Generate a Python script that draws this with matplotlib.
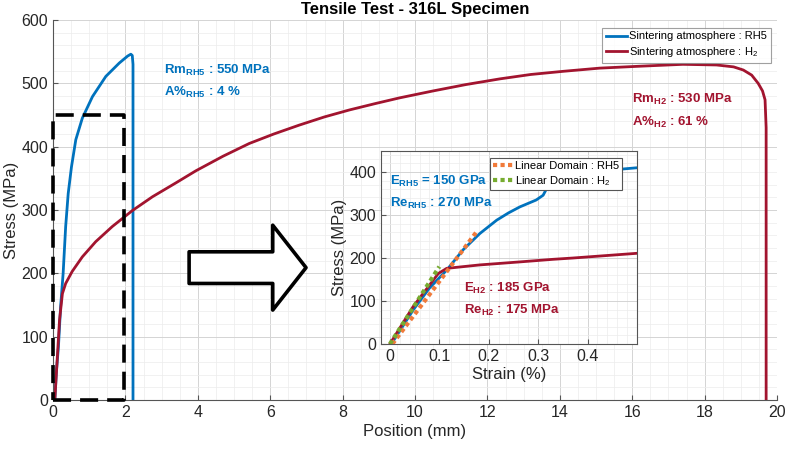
import matplotlib
matplotlib.use("Agg")
import matplotlib.pyplot as plt
from matplotlib.patches import FancyArrow
from matplotlib.ticker import MultipleLocator

plt.rcParams['font.family'] = ['Liberation Sans', 'DejaVu Sans']
plt.rcParams['mathtext.fontset'] = 'custom'
plt.rcParams['mathtext.rm'] = 'Liberation Sans'
plt.rcParams['mathtext.bf'] = 'Liberation Sans:bold'

# main curves: position (mm) vs stress (MPa)
pos_rh5 = [0.05, 0.09, 0.15, 0.21, 0.28, 0.35, 0.42, 0.51, 0.63, 0.81, 1.09, 1.46,
           1.83, 2.06, 2.15, 2.19, 2.21, 2.21]
stress_rh5 = [0, 42, 84, 147, 200, 274, 326, 368, 411, 445, 479, 511,
              532, 543, 546, 544, 530, 0]

pos_h2 = [0.05, 0.12, 0.18, 0.26, 0.35, 0.53, 0.81, 1.18, 1.64, 2.19, 2.75, 3.4,
          3.95, 4.7, 5.42, 6.1, 6.8, 7.5, 8.19, 8.9, 9.57, 10.5, 11.4, 12.34, 13.2,
          14.1, 15.1, 16.2, 17.4, 18.33, 18.8, 19.07, 19.3, 19.48, 19.6, 19.67, 19.7, 19.7]
stress_h2 = [0, 68, 126, 168, 184, 203, 226, 250, 274, 299, 321, 343,
             362, 385, 405, 420, 434, 447, 458, 468, 477, 488, 498, 507, 514,
             519, 524, 527, 530, 529, 526, 521, 513, 500, 488, 474, 430, 0]

# inset: strain (%) vs stress (MPa)
strain_rh5 = [0.003, 0.047, 0.08, 0.115, 0.148, 0.182, 0.216, 0.24, 0.263, 0.296,
              0.31, 0.323, 0.34, 0.38, 0.45, 0.5]
inset_rh5 = [0, 79, 130, 172, 219, 257, 288, 305, 319, 335,
             346, 374, 385, 396, 405, 410]
strain_h2 = [0.0, 0.047, 0.098, 0.115, 0.182, 0.263, 0.33, 0.37, 0.5]
inset_h2 = [0, 87, 164, 176, 184, 191, 197, 200, 211]

lin_rh5_x = [0.005, 0.178]
lin_rh5_y = [0, 265]
lin_h2_x = [0.0, 0.1]
lin_h2_y = [0, 180]

blue = '#0072BD'
red = '#A2142F'
orange = '#F07A3A'
green = '#77AC30'
axcol = '#555555'

fig = plt.figure(figsize=(7.87, 4.49), dpi=100)
ax = fig.add_axes([53/787, 49/449, 724/787, 380/449])

ax.plot(pos_rh5, stress_rh5, color=blue, lw=2.0, label='Sintering atmosphere : RH5')
ax.plot(pos_h2, stress_h2, color=red, lw=2.0, label='Sintering atmosphere : H$_2$')

ax.set_xlim(0, 20)
ax.set_ylim(0, 600)
ax.xaxis.set_major_locator(MultipleLocator(2))
ax.xaxis.set_minor_locator(MultipleLocator(0.5))
ax.yaxis.set_major_locator(MultipleLocator(100))
ax.yaxis.set_minor_locator(MultipleLocator(20))
ax.grid(which='major', color='#d4d4d4', lw=0.7)
ax.grid(which='minor', color='#ececec', lw=0.5)
ax.set_axisbelow(True)
ax.tick_params(which='both', direction='in', colors=axcol, labelcolor='#262626', labelsize=11.5)
ax.tick_params(which='minor', length=0)
ax.spines['top'].set_visible(False)
ax.spines['right'].set_visible(False)
for s in ['left', 'bottom']:
    ax.spines[s].set_color(axcol)
ax.set_xlabel('Position (mm)', fontsize=12, color='#262626', labelpad=3)
ax.set_ylabel('Stress (MPa)', fontsize=12, color='#262626', labelpad=2)
ax.set_title('Tensile Test - 316L Specimen', fontsize=12, fontweight='bold', pad=4)

leg = ax.legend(loc='upper right', bbox_to_anchor=(0.992, 0.98), fontsize=8,
                fancybox=False, edgecolor='#888888', handlelength=1.9, handletextpad=0.2,
                borderpad=0.35, labelspacing=0.35, borderaxespad=0)
leg.get_frame().set_linewidth(0.8)

# dashed zoom box
ax.plot([0, 1.95, 1.95, 0, 0], [0, 0, 450, 450, 0], color='k', lw=2.6,
        linestyle=(0, (5, 2.5)), clip_on=False, zorder=5)

# big outline arrow
ax.add_patch(FancyArrow(3.76, 209, 3.23, 0, width=50, head_width=134, head_length=0.92,
                        length_includes_head=True, facecolor='white', edgecolor='k',
                        lw=2.6, joinstyle='round', zorder=5))

fs = 9.5
ax.text(3.07, 521, r'$\mathbf{Rm_{RH5}}$ : 550 MPa', color=blue, fontsize=fs, fontweight='bold', va='center')
ax.text(3.07, 486, r'$\mathbf{A\%_{RH5}}$ : 4 %', color=blue, fontsize=fs, fontweight='bold', va='center')
ax.text(16.0, 474, r'$\mathbf{Rm_{H2}}$ : 530 MPa', color=red, fontsize=fs, fontweight='bold', va='center')
ax.text(16.0, 439, r'$\mathbf{A\%_{H2}}$ : 61 %', color=red, fontsize=fs, fontweight='bold', va='center')

# inset
ins = fig.add_axes([381/787, 105/449, 256/787, 193/449])
ins.plot(strain_rh5, inset_rh5, color=blue, lw=2.0)
ins.plot(strain_h2, inset_h2, color=red, lw=2.0)
ins.plot(lin_rh5_x, lin_rh5_y, color=orange, lw=3, linestyle=(0, (1, 0.8)), label='Linear Domain : RH5')
ins.plot(lin_h2_x, lin_h2_y, color=green, lw=3, linestyle=(0, (1, 0.8)), label='Linear Domain : H$_2$')
ins.set_xlim(-0.018, 0.5)
ins.set_ylim(0, 449)
ins.xaxis.set_minor_locator(MultipleLocator(0.02))
ins.yaxis.set_major_locator(MultipleLocator(100))
ins.yaxis.set_minor_locator(MultipleLocator(20))
ins.set_xticks([0, 0.1, 0.2, 0.3, 0.4])
ins.set_xticklabels(['0', '0.1', '0.2', '0.3', '0.4'])
ins.grid(which='major', color='#d4d4d4', lw=0.7)
ins.grid(which='minor', color='#ececec', lw=0.5)
ins.set_axisbelow(True)
ins.tick_params(which='both', direction='in', colors=axcol, labelcolor='#262626', labelsize=11.5)
ins.tick_params(which='minor', length=0)
for s in ins.spines.values():
    s.set_color(axcol)
ins.set_xlabel('Strain (%)', fontsize=12, color='#262626', labelpad=2)
ins.set_ylabel('Stress (MPa)', fontsize=12, color='#262626', labelpad=2)
leg2 = ins.legend(loc='upper right', bbox_to_anchor=(0.942, 0.965), fontsize=8,
                  fancybox=False, edgecolor='#555555', handlelength=1.9, handletextpad=0.1,
                  borderpad=0.25, labelspacing=0.3, borderaxespad=0, framealpha=1)
leg2.get_frame().set_linewidth(0.8)

ins.text(0.0, 379, r'$\mathbf{E_{RH5}}$ = 150 GPa', color=blue, fontsize=fs, fontweight='bold', va='center')
ins.text(0.0, 328, r'$\mathbf{Re_{RH5}}$ : 270 MPa', color=blue, fontsize=fs, fontweight='bold', va='center')
ins.text(0.15, 130, r'$\mathbf{E_{H2}}$ : 185 GPa', color=red, fontsize=fs, fontweight='bold', va='center')
ins.text(0.15, 79, r'$\mathbf{Re_{H2}}$ : 175 MPa', color=red, fontsize=fs, fontweight='bold', va='center')

fig.savefig('out.png', dpi=100)
